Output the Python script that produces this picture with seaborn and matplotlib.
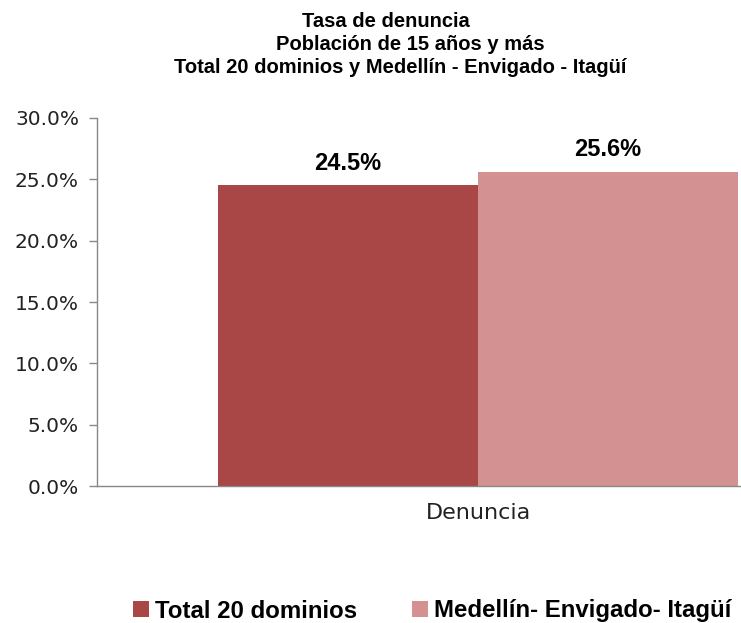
import matplotlib
matplotlib.use("Agg")
import matplotlib.pyplot as plt
import seaborn as sns
import pandas as pd
from matplotlib.patches import Patch
from matplotlib.ticker import FuncFormatter

categories = ["Denuncia"]
series = ["Total 20 dominios", "Medellín- Envigado- Itagüí"]
values = [24.5, 25.6]
colors = ["#A84746", "#D39191"]
yticks = [0, 5, 10, 15, 20, 25, 30]

df = pd.DataFrame({"cat": categories * len(series), "serie": series, "val": values})

sns.set_style("white")
plt.rcParams["font.family"] = ["DejaVu Sans"]
plt.rcParams["text.color"] = "black"
plt.rcParams["xtick.color"] = "#222222"
plt.rcParams["ytick.color"] = "#222222"

fig = plt.figure(figsize=(7.41, 6.23), dpi=100)
ax = fig.add_axes([97 / 741, (623 - 486) / 623, 762 / 741, 368 / 623])

sns.barplot(data=df, x="cat", y="val", hue="serie", palette=colors, width=0.682,
            gap=0, saturation=1, ax=ax, legend=False, edgecolor="none")

ax.set_xlim(-0.5, 0.5)
ax.set_ylim(0, 30)
ax.set_yticks(yticks)
ax.yaxis.set_major_formatter(FuncFormatter(lambda v, p: f"{v:.1f}%"))
ax.tick_params(axis="y", labelsize=14.5, length=6, color="#888888", width=1, pad=7,
               left=True, labelcolor="#222222")
ax.tick_params(axis="x", labelsize=16, length=0, pad=12, labelcolor="#222222")
ax.set_xlabel("")
ax.set_ylabel("")
for s in ["top", "right"]:
    ax.spines[s].set_visible(False)
for s in ["left", "bottom"]:
    ax.spines[s].set_color("#888888")
    ax.spines[s].set_linewidth(1)

for p, v in zip(ax.patches, values):
    ax.text(p.get_x() + p.get_width() / 2, v + 1.8, f"{v:.1f}%", ha="center", va="center",
            fontsize=17, fontweight="bold", family="Liberation Sans", color="black")

tfont = dict(fontsize=14.5, fontweight="bold", family="Liberation Sans", ha="center",
             va="baseline", color="black")
fig.text(386 / 741, 1 - 27 / 623, "Tasa de denuncia", **tfont)
fig.text(410 / 741, 1 - 50 / 623, "Población de 15 años y más", **tfont)
fig.text(400 / 741, 1 - 73 / 623, "Total 20 dominios y Medellín - Envigado - Itagüí", **tfont)

handles = [Patch(facecolor=c, edgecolor="none") for c in colors]
fig.legend(handles, series, loc="center left", bbox_to_anchor=(133 / 741, 1 - 611 / 623),
           ncol=2, frameon=False, handlelength=0.65, handleheight=0.65, handletextpad=0.25,
           columnspacing=2.3, borderaxespad=0, borderpad=0,
           prop={"family": "Liberation Sans", "weight": "bold", "size": 17.3})

fig.savefig("out.png", dpi=100)
